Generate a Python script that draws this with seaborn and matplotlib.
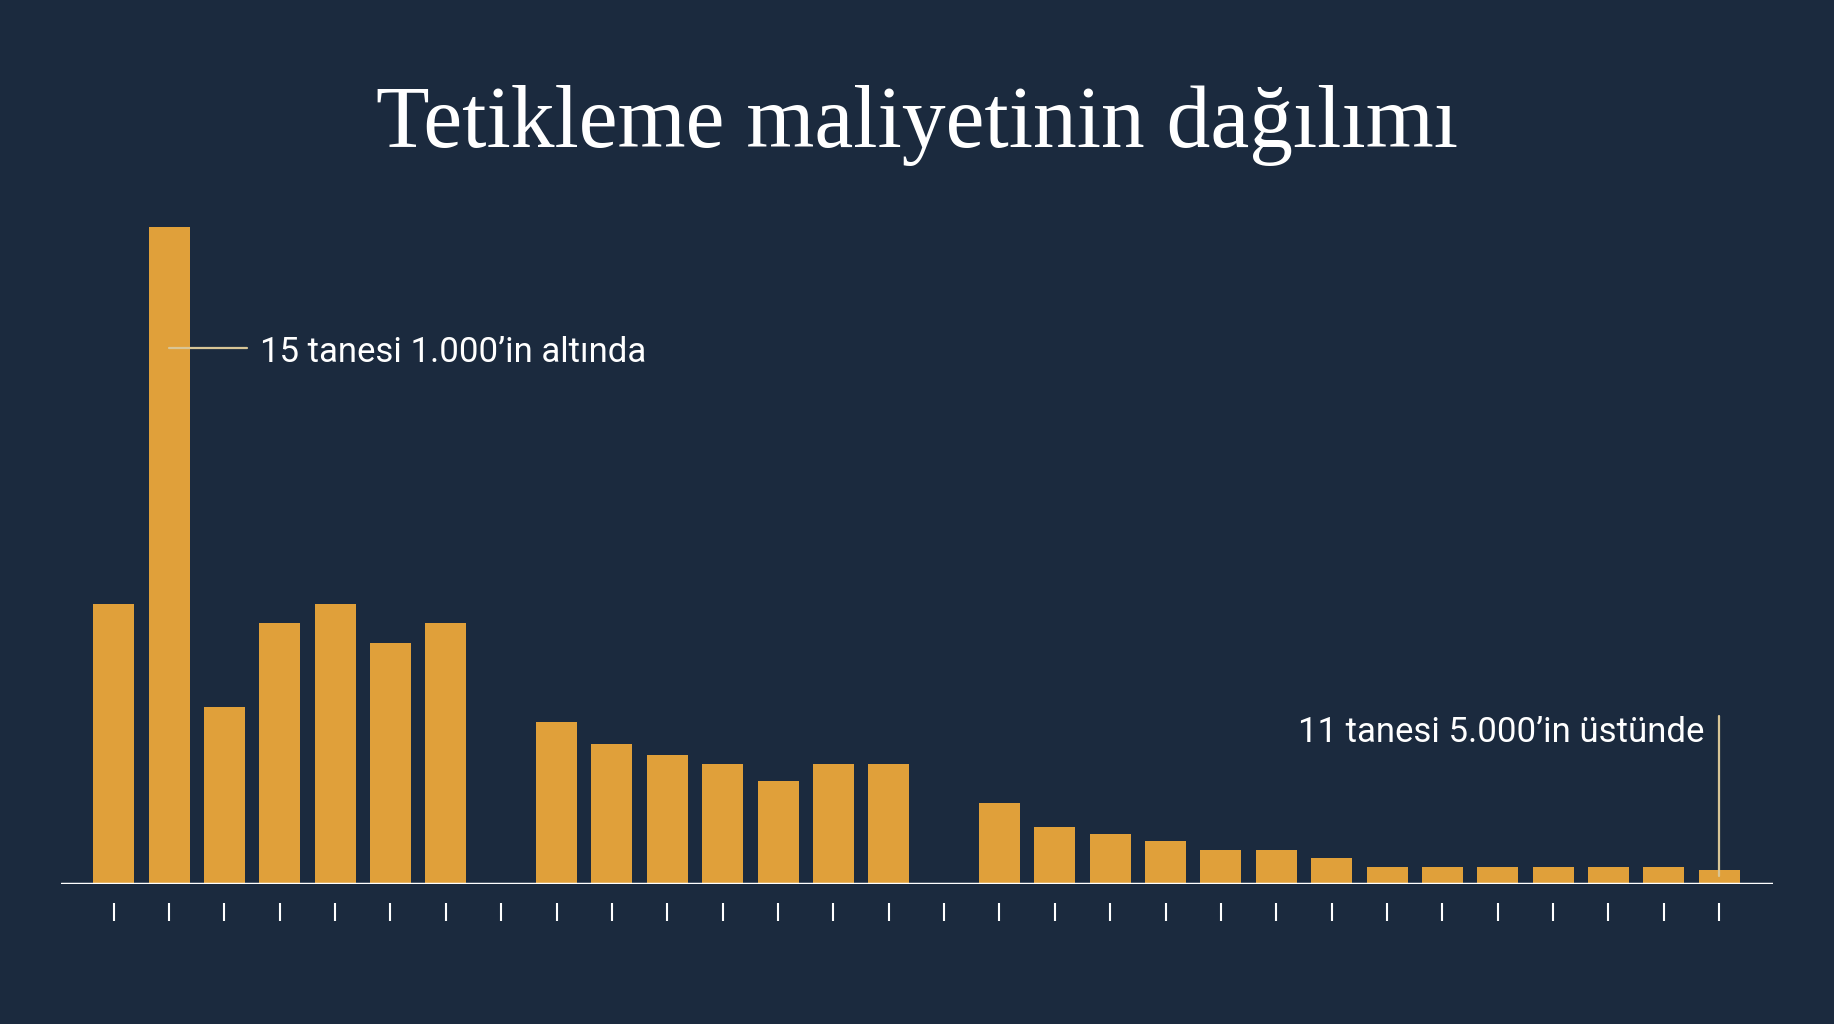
import numpy as np
import pandas as pd
import matplotlib
matplotlib.use('Agg')
import matplotlib.pyplot as plt
import seaborn as sns

# cost bins (left to right), count of triggers per bin; zeros are empty bins
bins = [f"b{i + 1}" for i in range(30)]
counts = [6.4, 15.0, 4.05, 5.95, 6.4, 5.5, 5.95, 0.0, 3.7, 3.2,
          2.95, 2.75, 2.35, 2.75, 2.75, 0.0, 1.85, 1.3, 1.15, 0.98,
          0.78, 0.78, 0.6, 0.4, 0.4, 0.4, 0.4, 0.4, 0.4, 0.32]

title = 'Tetikleme maliyetinin dağılımı'
note_low = '15 tanesi 1.000’in altında'
note_high = '11 tanesi 5.000’in üstünde'

BG = '#1b2a3e'
BAR = '#e0a03a'
LEADER = '#d8c596'

sns.set_theme(style='dark')
plt.rcParams['font.family'] = ['Roboto', 'DejaVu Sans']

df = pd.DataFrame({'bin': bins, 'count': counts})

fig = plt.figure(figsize=(18.34, 10.24), dpi=100, facecolor=BG)
ax = fig.add_axes([0.0333, 0.1367, 0.9334, 0.668])
ax.set_facecolor(BG)

sns.barplot(data=df, x='bin', y='count', color=BAR, saturation=1,
            width=0.74, linewidth=0, ax=ax)

ax.set_xlim(-0.95, len(bins) - 1 + 0.97)
ax.set_ylim(0, 15.62)
ax.axhline(0, color='white', lw=2.5, zorder=5)

for side in ['top', 'right', 'left', 'bottom']:
    ax.spines[side].set_visible(False)
ax.spines['bottom'].set_position(('outward', 13.7))
ax.tick_params(axis='x', length=13, width=1.5, color='white',
               direction='out', labelbottom=False, bottom=True)
ax.tick_params(axis='y', left=False, labelleft=False)
ax.set_xlabel('')
ax.set_ylabel('')
ax.grid(False)

# annotation: the tall bin
i_low = int(np.argmax(counts))
ax.plot([i_low, i_low + 1.41], [12.24, 12.24], color=LEADER, lw=1.6, zorder=6)
ax.text(i_low + 1.65, 11.92, note_low, color='white', fontsize=25,
        ha='left', va='baseline')

# annotation: the last bin
i_high = len(bins) - 1
ax.plot([i_high, i_high], [counts[i_high] * 0.55, 3.84], color=LEADER, lw=1.6, zorder=6)
ax.text(i_high - 0.27, 3.24, note_high, color='white', fontsize=25,
        ha='right', va='baseline')

fig.text(0.5, 1 - 147 / 1024, title, color='white', fontsize=63,
         family=['Liberation Serif', 'DejaVu Serif'], ha='center', va='baseline')

plt.savefig('out.png', dpi=100, facecolor=BG)
